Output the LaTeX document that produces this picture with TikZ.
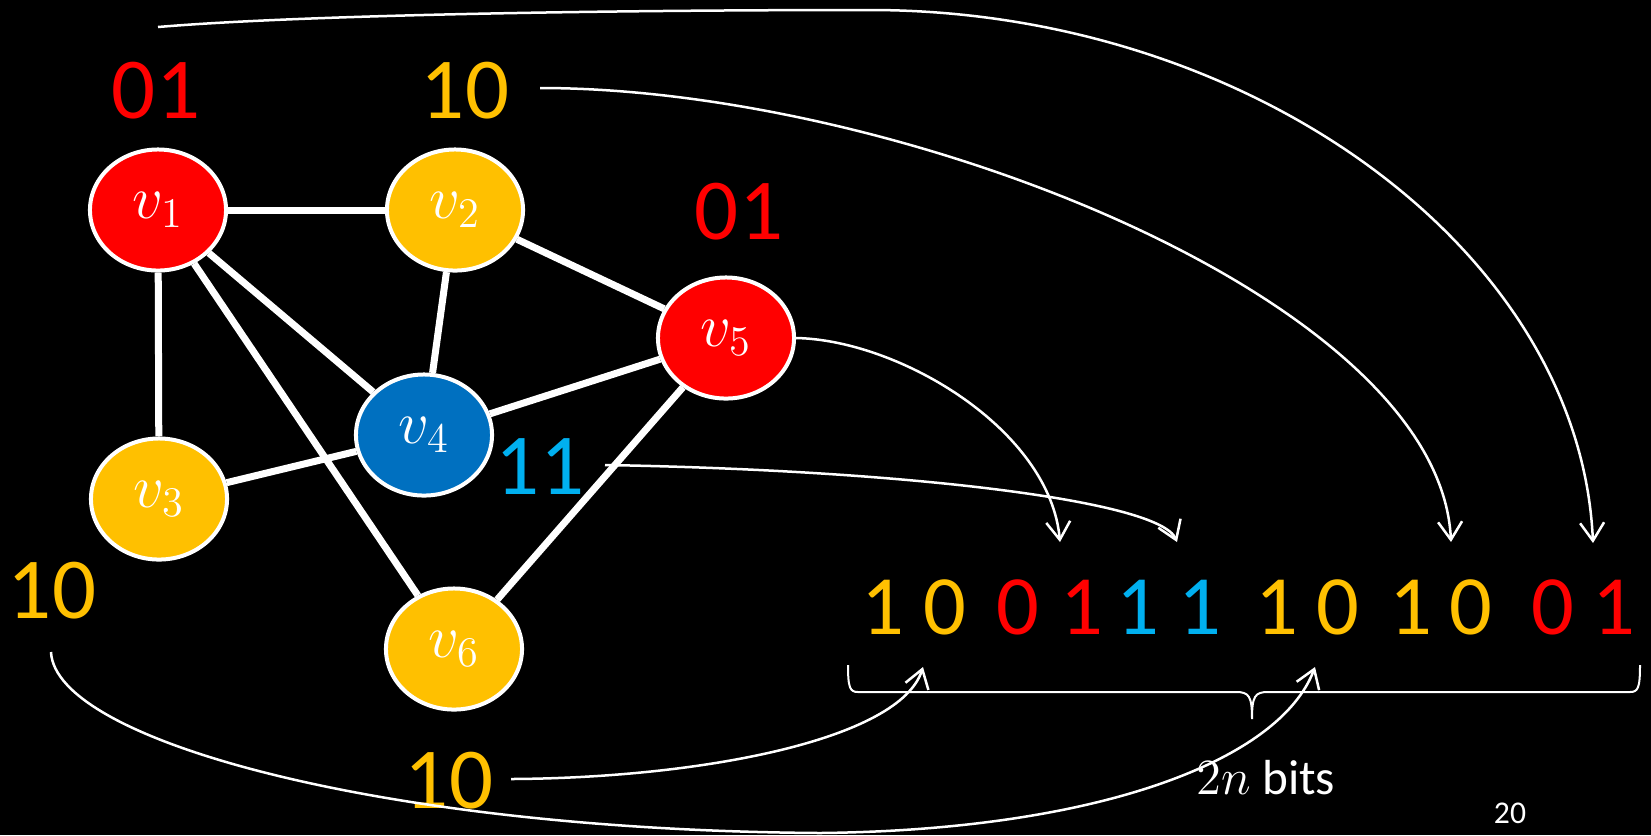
\documentclass[tikz,border=0pt]{standalone}
\usepackage{fontspec}
\setmainfont{Carlito}
\usetikzlibrary{shapes.geometric,arrows.meta}
\definecolor{cred}{HTML}{FF0000}
\definecolor{cyel}{HTML}{FFC000}
\definecolor{cblue}{HTML}{0070C0}
\definecolor{ccyan}{HTML}{00B0F0}
\begin{document}
\begin{tikzpicture}[x=0.01cm,y=-0.01cm,
  vert/.style={ellipse,draw=white,line width=0.04cm,minimum width=1.36cm,minimum height=1.21cm,inner sep=0pt,text=white,font=\fontsize{17}{20}\selectfont},
  edge/.style={white,line width=0.07cm},
  code/.style={font=\fontsize{24.7}{28}\selectfont,inner sep=0pt},
  bit/.style={font=\fontsize{24}{28}\selectfont,inner sep=0pt},
  conn/.style={white,line width=0.025cm,-{Straight Barb[length=0.18cm,width=0.24cm]}},
  bracestyle/.style={white,line width=0.02cm}
]
\fill[black] (0,0) rectangle (1651,835);
\useasboundingbox (0,0) rectangle (1651,835);

% vertices
\node[vert,fill=cred]  (v1) at (158,210) {$v_1$};
\node[vert,fill=cyel]  (v2) at (455,210) {$v_2$};
\node[vert,fill=cyel]  (v3) at (159,499) {$v_3$};
\node[vert,fill=cblue] (v4) at (424,435) {$v_4$};
\node[vert,fill=cred]  (v5) at (726,338) {$v_5$};
\node[vert,fill=cyel]  (v6) at (454,649) {$v_6$};

% edges
\draw[edge] (v1) -- (v2);
\draw[edge] (v1) -- (v3);
\draw[edge] (v1) -- (v4);
\draw[edge] (v1) -- (v6);
\draw[edge] (v2) -- (v4);
\draw[edge] (v2) -- (v5);
\draw[edge] (v5) -- (v4);
\draw[edge] (v5) -- (v6);
\draw[edge] (v4) -- (v3);

% code labels
\node[code,text=cred]  (l1) at (156,91)  {01};
\node[code,text=cyel]  (l2) at (465,91)  {10};
\node[code,text=cred]  (l5) at (739,212) {01};
\node[code,text=ccyan] (l4) at (540,467) {11};
\node[code,text=cyel]  (l3) at (52,591)  {10};
\node[code,text=cyel]  (l6) at (449,781) {10};

% bit string
\node[bit,text=cyel]  (b1)  at (883,607)  {1};
\node[bit,text=cyel]  (b2)  at (945,607)  {0};
\node[bit,text=cred]  (b3)  at (1018,607) {0};
\node[bit,text=cred]  (b4)  at (1082,607) {1};
\node[bit,text=ccyan] (b5)  at (1138,607) {1};
\node[bit,text=ccyan] (b6)  at (1200,607) {1};
\node[bit,text=cyel]  (b7)  at (1277,607) {1};
\node[bit,text=cyel]  (b8)  at (1338,607) {0};
\node[bit,text=cyel]  (b9)  at (1411,607) {1};
\node[bit,text=cyel]  (b10) at (1471,607) {0};
\node[bit,text=cred]  (b11) at (1553,607) {0};
\node[bit,text=cred]  (b12) at (1614,607) {1};

% brace
\coordinate (bl) at (848,665);
\coordinate (br) at (1640,665);
\coordinate (bt) at (1252,719);
\draw[bracestyle] (bl) .. controls (848,688) and (850,692) .. (858,692) -- (1236,692)
  .. controls (1249,692) and (1252,696) .. (bt)
  .. controls (1252,696) and (1255,692) .. (1268,692) -- (1630,692)
  .. controls (1638,692) and (1640,688) .. (br);
\node[text=white,font=\fontsize{14}{17}\selectfont,inner sep=0pt] (nb) at (1266,778) {$2n$ bits};
\node[text=white,font=\fontsize{9}{11}\selectfont,inner sep=0pt] (pg) at (1510,813) {20};

% connector coordinates
\coordinate (s1) at (158,27);
\coordinate (t1) at (1593,543);
\coordinate (s2) at (540,88);
\coordinate (t2) at (1451,542);
\coordinate (t3) at (1060,542);
\coordinate (s4) at (605,465);
\coordinate (t4) at (1177,542);
\coordinate (s5) at (511,779);
\coordinate (t5) at (923,667);
\coordinate (s6) at (51,652);
\coordinate (t6) at (1315,667);

% connectors
\draw[conn] (s1) .. controls (300,15) and (600,10) .. (870,10) .. controls (1250,10) and (1580,250) .. (t1);
\draw[conn] (s2) .. controls (900,88) and (1440,300) .. (t2);
\draw[conn] (v5.east) .. controls (900,340) and (1050,430) .. (t3);
\draw[conn] (s4) .. controls (900,470) and (1160,500) .. (t4);
\draw[conn] (s5) .. controls (700,778) and (900,740) .. (t5);
\draw[conn] (s6) .. controls (55,740) and (380,830) .. (820,833) .. controls (1100,830) and (1280,760) .. (t6);
\end{tikzpicture}
\end{document}
